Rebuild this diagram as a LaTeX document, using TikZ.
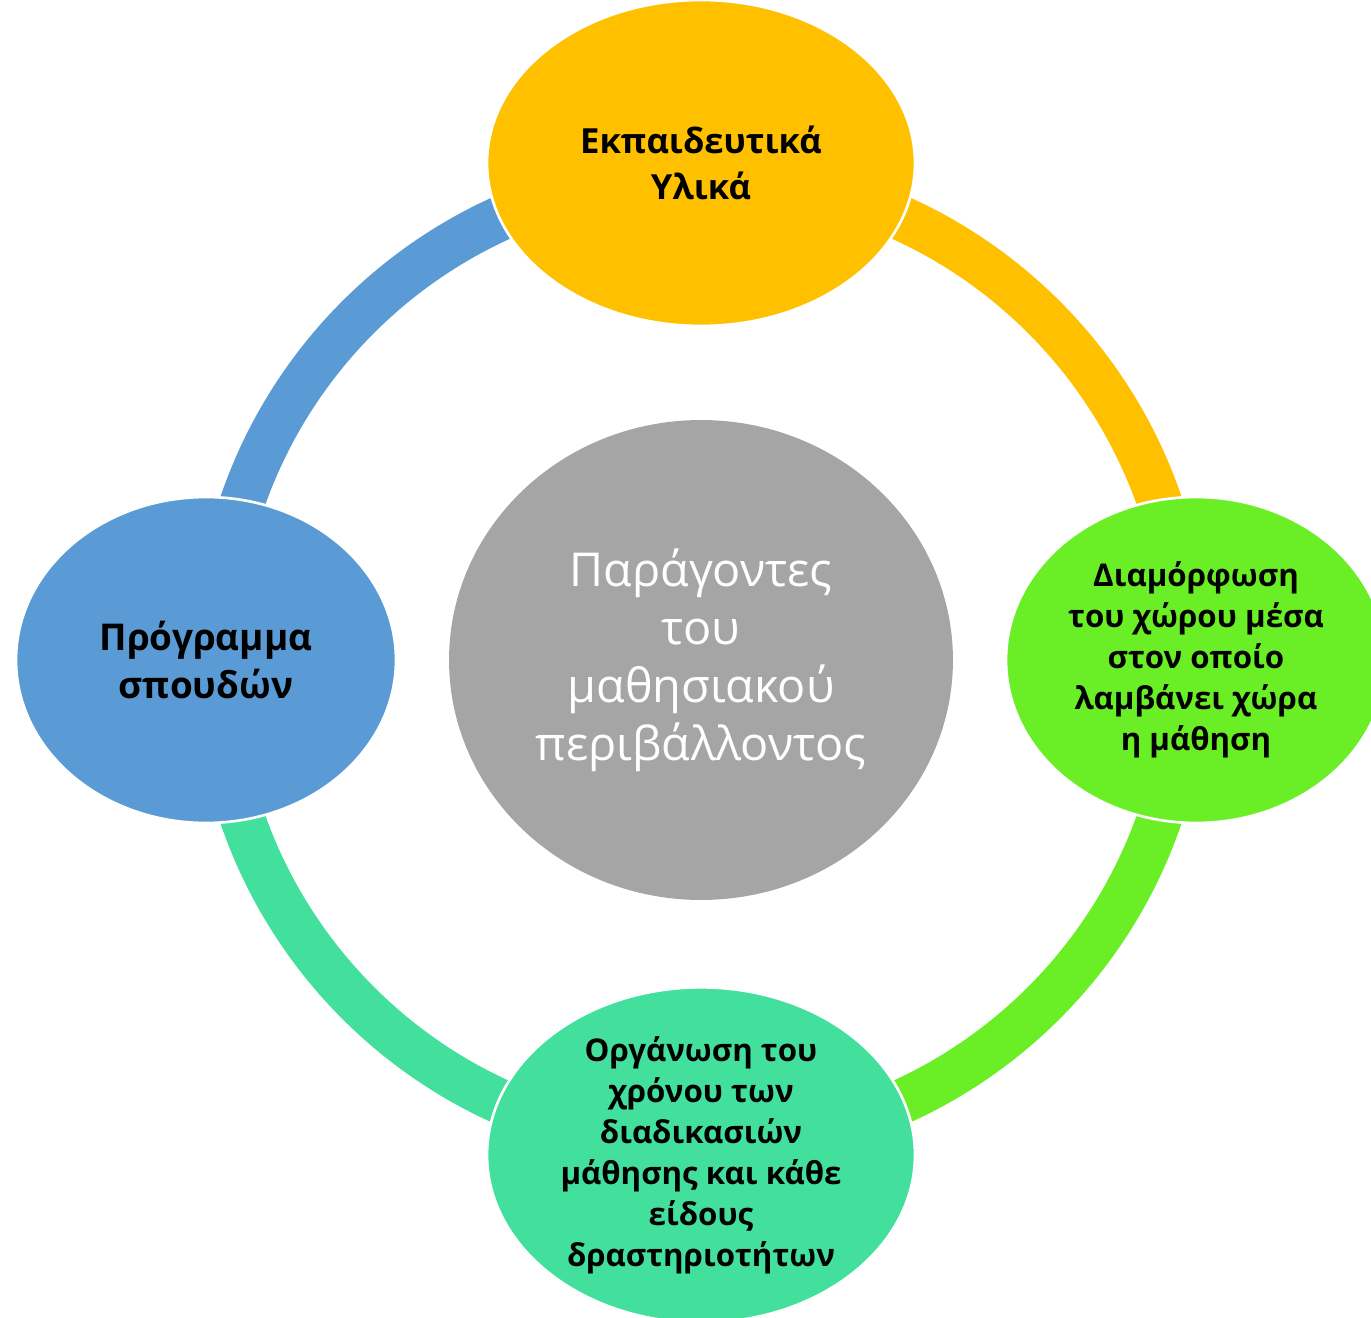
\documentclass[tikz,border=0pt]{standalone}
\usepackage{fontspec}
\setmainfont{Open Sans}
\usetikzlibrary{shapes.geometric,backgrounds}
\definecolor{cyellow}{HTML}{FFC000}
\definecolor{cblue}{HTML}{5B9BD5}
\definecolor{cgreen}{HTML}{6AEE26}
\definecolor{cteal}{HTML}{42E09C}
\definecolor{cgray}{HTML}{A5A5A5}
\tikzset{
  blob/.style={ellipse, draw=white, line width=1.5pt, inner sep=0pt, align=center},
  lab/.style={font=\fontsize{19.7}{26.3}\selectfont\bfseries, text=black},
  leftlab/.style={font=\fontsize{21}{26.8}\selectfont\bfseries, text=black},
  smalllab/.style={font=\fontsize{17.8}{23.3}\selectfont\bfseries, text=black},
  centerlab/.style={font=\fontsize{26.6}{33}\selectfont, text=white},
  ring/.style={line width=0.9cm}
}
\begin{document}
\begin{tikzpicture}[x=0.02cm, y=-0.02cm]
\useasboundingbox (0,0) rectangle (1371,1317);
\clip (0,0) rectangle (1371,1317);
\node[ellipse, fill=cgray, inner sep=0pt, minimum width=10.08cm, minimum height=9.6cm, align=center, centerlab] (C) at (701,660) {Παράγοντες\\του\\μαθησιακού\\περιβάλλοντος};
\node[blob, fill=cyellow, minimum width=8.56cm, minimum height=6.52cm, lab] (T) at (701,163) {Εκπαιδευτικά\\Υλικά};
\node[blob, fill=cgreen, minimum width=7.6cm, minimum height=6.52cm, smalllab] (R) at (1196,660) {Διαμόρφωση\\του χώρου μέσα\\στον οποίο\\λαμβάνει χώρα\\η μάθηση};
\node[blob, fill=cteal, minimum width=8.56cm, minimum height=6.52cm, smalllab] (B) at (701,1155) {Οργάνωση του\\χρόνου των\\διαδικασιών\\μάθησης και κάθε\\είδους\\δραστηριοτήτων};
\node[blob, fill=cblue, minimum width=7.6cm, minimum height=6.52cm, leftlab] (L) at (206,660) {Πρόγραμμα\\σπουδών};
% ring arcs (behind the ellipses), around the centre node
\begin{scope}[on background layer]
\draw[ring, cblue]   (C.center) ++(180:9.7cm) arc[start angle=180, end angle=90,   radius=9.7cm];
\draw[ring, cyellow] (C.center) ++(90:9.7cm)  arc[start angle=90,  end angle=0,    radius=9.7cm];
\draw[ring, cgreen]  (C.center) ++(0:9.7cm)   arc[start angle=0,   end angle=-90,  radius=9.7cm];
\draw[ring, cteal]   (C.center) ++(-90:9.7cm) arc[start angle=-90, end angle=-180, radius=9.7cm];
\end{scope}
\end{tikzpicture}
\end{document}
